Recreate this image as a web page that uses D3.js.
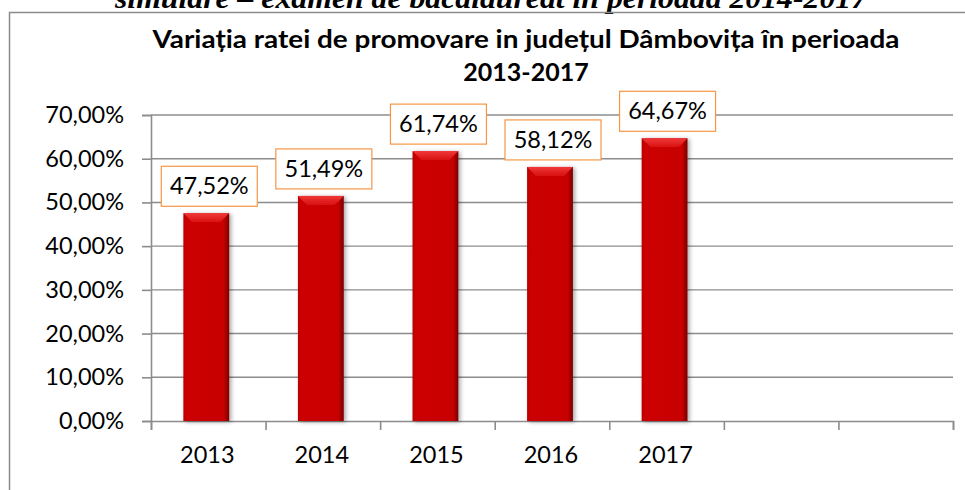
<!DOCTYPE html>
<html>
<head>
<meta charset="utf-8">
<script src="https://cdn.jsdelivr.net/npm/d3@7"></script>
<style>
  body { margin: 0; background: #fff; }
  svg { display: block; }
</style>
</head>
<body>
<svg id="chart" width="965" height="490"></svg>
<script>
const pageTitle = "simulare – examen de bacalaureat în perioada 2014-2017";
const titleLines = ["Variația ratei de promovare in județul Dâmbovița în perioada", "2013-2017"];
const years = ["2013", "2014", "2015", "2016", "2017"];
const rates = [47.52, 51.49, 61.74, 58.12, 64.67];
const slotCount = 7;
const yTicks = [0, 10, 20, 30, 40, 50, 60, 70];

const plotLeft = 151, plotRight = 953, plotTop = 115, plotBottom = 421;
const font = "Lato, 'Open Sans', sans-serif";
const fontSize = 23.5;

const svg = d3.select("#chart");

const defs = svg.append("defs");
const body = defs.append("linearGradient").attr("id", "barBody");
body.append("stop").attr("offset", "0%").attr("stop-color", "#b80000");
body.append("stop").attr("offset", "8%").attr("stop-color", "#cc0000");
body.append("stop").attr("offset", "88%").attr("stop-color", "#c80000");
body.append("stop").attr("offset", "100%").attr("stop-color", "#7a0000");
const bevel = defs.append("linearGradient").attr("id", "barTop")
  .attr("x1", 0).attr("y1", 0).attr("x2", 0).attr("y2", 1);
bevel.append("stop").attr("offset", "0%").attr("stop-color", "#f03838");
bevel.append("stop").attr("offset", "100%").attr("stop-color", "#d81010");
defs.append("filter").attr("id", "shadow")
  .attr("x", "-30%").attr("y", "-10%").attr("width", "160%").attr("height", "130%")
  .append("feDropShadow")
  .attr("dx", 2).attr("dy", 1).attr("stdDeviation", 2)
  .attr("flood-color", "#000").attr("flood-opacity", 0.35);

// heading of the page, cut off by the top edge
svg.append("text")
  .attr("x", 115).attr("y", 8)
  .attr("textLength", 752).attr("lengthAdjust", "spacingAndGlyphs")
  .attr("font-family", "'Liberation Serif', 'Times New Roman', serif")
  .attr("font-style", "italic").attr("font-weight", "bold")
  .attr("font-size", 29)
  .text(pageTitle);

// chart frame
svg.append("rect")
  .attr("x", 9.5).attr("y", 12.5)
  .attr("width", 970).attr("height", 500)
  .attr("fill", "none").attr("stroke", "#8a8a8a").attr("stroke-width", 1.5);

svg.append("g")
  .selectAll("text")
  .data(titleLines)
  .join("text")
  .attr("x", 526)
  .attr("y", (d, i) => 48 + i * 33)
  .attr("text-anchor", "middle")
  .attr("font-family", font)
  .attr("font-weight", "bold")
  .attr("font-size", 25)
  .attr("textLength", (d, i) => i === 0 ? 747 : null)
  .attr("lengthAdjust", "spacingAndGlyphs")
  .text(d => d);

const y = d3.scaleLinear().domain([0, 70]).range([plotBottom, plotTop]);
const xb = d3.scaleLinear().domain([0, slotCount]).range([plotLeft, plotRight]);
const x = d3.scaleBand()
  .domain(d3.range(slotCount))
  .range([plotLeft, plotRight])
  .paddingInner(0.6)
  .paddingOuter(0.3);

const pct = d => d3.format(".2f")(d).replace(".", ",") + "%";

// gridlines
svg.append("g")
  .selectAll("line")
  .data(yTicks.slice(1))
  .join("line")
  .attr("x1", plotLeft).attr("x2", plotRight)
  .attr("y1", d => y(d)).attr("y2", d => y(d))
  .attr("stroke", "#8c8c8c").attr("stroke-width", 1.4);

// y axis
const yAxis = svg.append("g")
  .attr("transform", `translate(${plotLeft},0)`)
  .call(d3.axisLeft(y).tickValues(yTicks).tickSize(9).tickPadding(18).tickFormat(pct));
yAxis.select(".domain").attr("stroke", "#8c8c8c").attr("stroke-width", 1.6);
yAxis.selectAll(".tick line").attr("stroke", "#8c8c8c").attr("stroke-width", 1.6);
yAxis.selectAll(".tick text")
  .attr("font-family", font).attr("font-size", fontSize).attr("fill", "#000");

// x axis
const xAxis = svg.append("g")
  .attr("transform", `translate(0,${plotBottom})`)
  .call(d3.axisBottom(xb).tickValues(d3.range(slotCount + 1)).tickSize(9).tickFormat(""));
xAxis.select(".domain").attr("stroke", "#8c8c8c").attr("stroke-width", 1.6);
xAxis.selectAll(".tick line").attr("stroke", "#8c8c8c").attr("stroke-width", 1.6);

svg.append("g")
  .selectAll("text")
  .data(years)
  .join("text")
  .attr("x", (d, i) => xb(i + 0.5) - 1)
  .attr("y", 463)
  .attr("text-anchor", "middle")
  .attr("font-family", font).attr("font-size", fontSize)
  .text(d => d);

// bars
const bar = svg.append("g")
  .selectAll("g")
  .data(rates)
  .join("g")
  .attr("filter", "url(#shadow)");

bar.append("rect")
  .attr("x", (d, i) => x(i) - 2)
  .attr("y", d => y(d))
  .attr("width", x.bandwidth())
  .attr("height", d => plotBottom - y(d))
  .attr("fill", "url(#barBody)");

bar.append("path")
  .attr("fill", "url(#barTop)")
  .attr("d", (d, i) => {
    const x0 = x(i) - 2, x1 = x0 + x.bandwidth(), y0 = y(d), b = 9;
    return `M${x0},${y0}L${x1},${y0}L${x1 - b},${y0 + b}L${x0 + b},${y0 + b}Z`;
  });

// data labels
const label = svg.append("g")
  .selectAll("g")
  .data(rates)
  .join("g")
  .attr("transform", (d, i) => `translate(${x(i) - 2 + x.bandwidth() / 2 + 3},${y(d) - 7})`);

label.append("rect")
  .attr("x", -48).attr("y", -40)
  .attr("width", 96).attr("height", 40)
  .attr("fill", "#fff").attr("stroke", "#f79646").attr("stroke-width", 1.2);

label.append("text")
  .attr("y", -12)
  .attr("text-anchor", "middle")
  .attr("font-family", font).attr("font-size", fontSize)
  .text(d => pct(d));
</script>
</body>
</html>
